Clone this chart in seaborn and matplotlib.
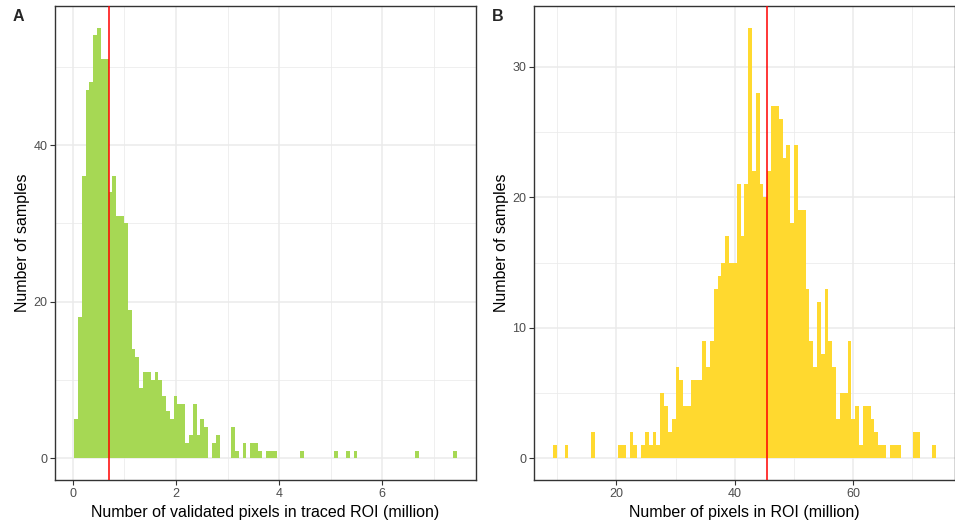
import numpy as np
import pandas as pd
import matplotlib
matplotlib.use("Agg")
import matplotlib.pyplot as plt
import seaborn as sns

# ---------------- Panel A data ----------------
a_bin_start = 0.025
a_bin_width = 0.0742
a_counts = [5, 18, 36, 47, 48, 54, 55, 51, 51, 34,
            36, 31, 31, 30, 19, 14, 13, 9, 11, 11,
            10, 11, 10, 8, 6, 5, 8, 7, 7, 2,
            3, 7, 3, 5, 4, 0, 2, 3, 0, 0,
            0, 4, 1, 0, 2, 0, 2, 2, 1, 0,
            1, 1, 1, 0, 0, 0, 0, 0, 0, 1,
            0, 0, 0, 0, 0, 0, 0, 0, 1, 0,
            0, 1, 0, 1, 0, 0, 0, 0, 0, 0,
            0, 0, 0, 0, 0, 0, 0, 0, 0, 1,
            0, 0, 0, 0, 0, 0, 0, 0, 0, 1]
a_median = 0.695
a_xticks = [0, 2, 4, 6]
a_xminor = [1, 3, 5, 7]
a_yticks = [0, 20, 40]
a_yminor = [10, 30, 50]
a_xlabel = "Number of validated pixels in traced ROI (million)"
a_color = "#A6D854"

# ---------------- Panel B data ----------------
b_bin_start = 9.31
b_bin_width = 0.6461
b_counts = [1, 0, 0, 1, 0, 0, 0, 0, 0, 0,
            2, 0, 0, 0, 0, 0, 0, 1, 1, 0,
            2, 1, 0, 1, 2, 1, 2, 1, 5, 4,
            2, 3, 7, 6, 4, 4, 6, 6, 6, 9,
            7, 9, 13, 14, 15, 17, 15, 15, 21, 17,
            21, 33, 22, 28, 21, 20, 22, 27, 27, 26,
            23, 24, 18, 24, 19, 19, 13, 9, 7, 12,
            8, 13, 9, 7, 3, 5, 5, 9, 3, 4,
            1, 4, 4, 3, 2, 1, 1, 0, 1, 1,
            1, 0, 0, 0, 2, 2, 0, 0, 0, 1]
b_median = 45.5
b_xticks = [20, 40, 60]
b_xminor = [10, 30, 50, 70]
b_yticks = [0, 10, 20, 30]
b_yminor = [5, 15, 25]
b_xlabel = "Number of pixels in ROI (million)"
b_color = "#FFD92F"

ylabel = "Number of samples"

sns.set_theme(style="white")
plt.rcParams["font.family"] = ["Liberation Sans", "DejaVu Sans"]

W, H = 955, 522
fig = plt.figure(figsize=(W / 100, H / 100), dpi=100)
fig.patch.set_facecolor("white")

GRID = "#EBEBEB"
BORDER = "#333333"
TICKC = "#4D4D4D"


def draw(ax, start, width, counts, color, median, xticks, xminor, yticks, yminor, xlabel):
    counts = np.asarray(counts, dtype=float)
    edges = start + width * np.arange(len(counts) + 1)
    centers = (edges[:-1] + edges[1:]) / 2
    df = pd.DataFrame({"value": centers, "n": counts})
    sns.histplot(data=df, x="value", weights="n", bins=edges.tolist(), color=color,
                 alpha=1, linewidth=0, ax=ax, zorder=2)
    ax.axvline(median, color="red", lw=1.1, zorder=3)
    lo, hi = edges[0], edges[-1]
    pad = 0.05 * (hi - lo)
    ax.set_xlim(lo - pad, hi + pad)
    ymax = counts.max()
    ax.set_ylim(-0.05 * ymax, 1.05 * ymax)
    ax.set_xticks(xticks)
    ax.set_xticks(xminor, minor=True)
    ax.set_yticks(yticks)
    ax.set_yticks(yminor, minor=True)
    ax.set_xticklabels([str(t) for t in xticks])
    ax.set_yticklabels([str(t) for t in yticks])
    ax.set_axisbelow(True)
    ax.grid(which="major", color=GRID, lw=1.1, zorder=0)
    ax.grid(which="minor", color=GRID, lw=0.55, zorder=0)
    ax.tick_params(which="major", length=3.3, width=0.8, color=BORDER,
                   labelsize=9, labelcolor=TICKC, pad=2.2,
                   bottom=True, left=True)
    ax.tick_params(which="minor", length=0)
    for s in ax.spines.values():
        s.set_color(BORDER)
        s.set_linewidth(1.0)
        s.set_visible(True)
    ax.set_facecolor("white")
    ax.set_xlabel(xlabel, fontsize=11.5, color="black", labelpad=3.5)
    ax.set_ylabel(ylabel, fontsize=11.5, color="black", labelpad=2.5)


axA = fig.add_axes([55 / W, 42 / H, 421 / W, 474 / H])
axB = fig.add_axes([534 / W, 42 / H, 420.7 / W, 474 / H])

draw(axA, a_bin_start, a_bin_width, a_counts, a_color, a_median,
     a_xticks, a_xminor, a_yticks, a_yminor, a_xlabel)
draw(axB, b_bin_start, b_bin_width, b_counts, b_color, b_median,
     b_xticks, b_xminor, b_yticks, b_yminor, b_xlabel)

fig.text(13 / W, 1 - 20.7 / H, "A", fontsize=11.5, fontweight="bold", ha="left", va="baseline")
fig.text(492 / W, 1 - 20.7 / H, "B", fontsize=11.5, fontweight="bold", ha="left", va="baseline")

fig.savefig("out.png", dpi=100)
